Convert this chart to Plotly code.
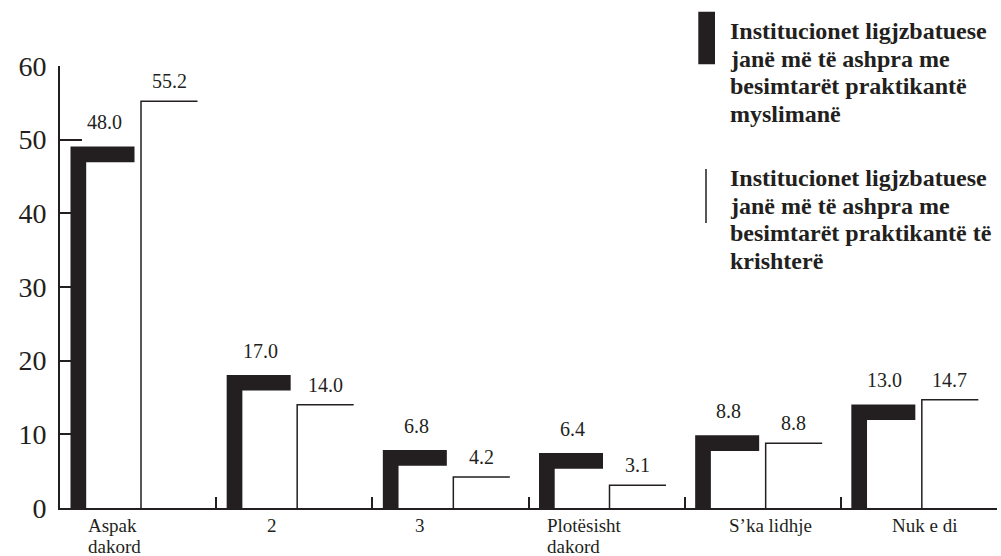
import plotly.graph_objects as go

# ---------------- data ----------------
categories = ["Aspak<br>dakord", "2", "3", "Plotësisht<br>dakord", "S’ka lidhje", "Nuk e di"]
muslim_values = [48.0, 17.0, 6.8, 6.4, 8.8, 13.0]
christian_values = [55.2, 14.0, 4.2, 3.1, 8.8, 14.7]
y_tick_values = [0, 10, 20, 30, 40, 50, 60]
series_names = [
    "Institucionet ligjzbatuese<br>janë më të ashpra me<br>besimtarët praktikantë<br>myslimanë",
    "Institucionet ligjzbatuese<br>janë më të ashpra me<br>besimtarët praktikantë të<br>krishterë",
]

# ---------------- layout constants (pixels) ----------------
W, H = 1001, 556
ML, MR, MT, MB = 60, 4, 66, 48
PW = W - ML - MR
PH = H - MT - MB
YMAX = 60
n = len(categories)
ux = PW / n          # px per category unit
uy = PH / YMAX       # px per value unit

INK = "#231f20"
FONT = "Liberation Serif"

# label horizontal placement (px from category left edge) and anchor
label_pos = [(27, "left"), (56, "center"), (48, "center"), (17, "left"), (86, "center"), (84, "center")]


def px_x(px):
    return (px - ML) / PW


def px_y(py):
    return (H - MB - py) / PH


fig = go.Figure()

# thick black "bars" (L shapes)
for i, v in enumerate(muslim_values):
    L = i - 0.5
    x0 = L + 10.5 / ux
    x1 = x0 + 15.7 / ux
    x2 = L + 74.5 / ux
    h = 7.85 / uy
    xs = [x0, x0, x2, x2, x1, x1, x0]
    ys = [0, v + h, v + h, v - h, v - h, 0, 0]
    fig.add_trace(go.Scatter(x=xs, y=ys, mode="lines", fill="toself",
                             fillcolor=INK, line=dict(width=0, color=INK),
                             hoverinfo="skip", showlegend=False))

# thin "bars"
tx, ty = [], []
for i, v in enumerate(christian_values):
    L = i - 0.5
    xa = L + 81 / ux
    xb = L + 137.5 / ux
    tx += [xa, xa, xb, None]
    ty += [0, v, v, None]
fig.add_trace(go.Scatter(x=tx, y=ty, mode="lines", line=dict(width=1.5, color=INK),
                         hoverinfo="skip", showlegend=False))

annotations = []
# value labels
for i, v in enumerate(muslim_values):
    L = i - 0.5
    xc = L + 44 / ux
    annotations.append(dict(x=xc, y=v, xref="x", yref="y", text=f"{v:.1f}", showarrow=False,
                            xanchor="center", yanchor="middle", yshift=32, borderpad=0,
                            font=dict(family=FONT, size=20, color=INK)))
for i, v in enumerate(christian_values):
    L = i - 0.5
    xc = L + 109 / ux
    annotations.append(dict(x=xc, y=v, xref="x", yref="y", text=f"{v:.1f}", showarrow=False,
                            xanchor="center", yanchor="middle", yshift=20, borderpad=0,
                            font=dict(family=FONT, size=20, color=INK)))

# category labels (one annotation per line for tight leading)
for i, lab in enumerate(categories):
    off, anc = label_pos[i]
    L = i - 0.5
    for j, line in enumerate(lab.split("<br>")):
        annotations.append(dict(x=L + off / ux, y=0, xref="x", yref="y", text=line, showarrow=False,
                                xanchor=anc, yanchor="top", yshift=-6 - 21 * j, borderpad=0,
                                font=dict(family=FONT, size=19, color=INK)))

# legend texts (one annotation per line for tight leading)
legend_tops = [17, 164]
for k, name in enumerate(series_names):
    for j, line in enumerate(name.split("<br>")):
        annotations.append(dict(x=px_x(729), y=px_y(legend_tops[k] + 27.7 * j), xref="paper", yref="paper",
                                text="<b>" + line + "</b>", showarrow=False, align="left",
                                xanchor="left", yanchor="top", borderpad=0,
                                font=dict(family=FONT, size=24, color=INK)))

shapes = [
    dict(type="rect", xref="paper", yref="paper", x0=px_x(698.3), x1=px_x(715),
         y0=px_y(64.3), y1=px_y(11.7), fillcolor=INK, line=dict(width=0)),
    dict(type="line", xref="paper", yref="paper", x0=px_x(706), x1=px_x(706),
         y0=px_y(223), y1=px_y(169), line=dict(width=1.5, color=INK)),
]

fig.update_layout(
    width=W, height=H,
    margin=dict(l=ML, r=MR, t=MT, b=MB, pad=0),
    paper_bgcolor="white", plot_bgcolor="white",
    showlegend=False,
    annotations=annotations,
    shapes=shapes,
    xaxis=dict(range=[-0.5, n - 0.5], showgrid=False, zeroline=False,
               showline=True, linecolor=INK, linewidth=2,
               tickvals=[i + 0.5 for i in range(n)], ticks="inside", ticklen=11,
               tickwidth=2, tickcolor=INK, showticklabels=False, fixedrange=True),
    yaxis=dict(range=[0, YMAX], showgrid=False, zeroline=False,
               showline=True, linecolor=INK, linewidth=2,
               tickvals=y_tick_values, ticktext=[str(t) for t in y_tick_values],
               ticks="inside", ticklen=22, tickwidth=2, tickcolor=INK,
               ticklabelstandoff=6,
               tickfont=dict(family=FONT, size=28, color=INK), fixedrange=True),
)

fig.write_html("out.html", config={"displayModeBar": False},
               post_script="document.body.style.margin='0px';")
